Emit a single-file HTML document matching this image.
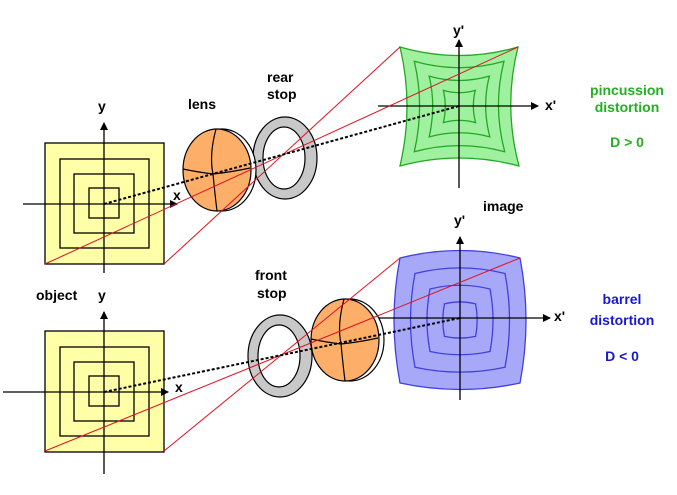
<!DOCTYPE html>
<html><head><style>body{margin:0;background:#fff}svg{display:block}text{font-family:"Liberation Sans",Arial,sans-serif;font-weight:bold;font-size:14px}</style></head>
<body>
<svg width="677" height="495" viewBox="0 0 677 495" xmlns="http://www.w3.org/2000/svg">
<defs>
<marker id="a" markerWidth="8" markerHeight="8" refX="7" refY="4" orient="auto" markerUnits="userSpaceOnUse"><path d="M0,0 L8,4 L0,8 Z" fill="#000"/></marker>
<g id="obj">
<rect x="45" y="143" width="119" height="121" fill="#ffffa8" stroke="#000" stroke-width="1.3"/>
<rect x="60" y="159" width="89" height="89" fill="none" stroke="#000" stroke-width="1.3"/>
<rect x="74" y="174" width="60" height="59" fill="none" stroke="#000" stroke-width="1.3"/>
<rect x="89" y="188" width="30" height="30" fill="none" stroke="#000" stroke-width="1.3"/>
</g>
<g id="lens">
<ellipse cx="5" cy="0" rx="34" ry="41" fill="#fff" stroke="#000" stroke-width="1.2"/>
<ellipse cx="0" cy="0" rx="34" ry="41" fill="#fdae68" stroke="#000" stroke-width="1.2"/>
<path d="M-1,-41 Q-8,-15 -4,4 Q-2,25 0,41" fill="none" stroke="#000" stroke-width="1.2"/>
<path d="M-34,-1 Q-20,2 -4,4 Q15,2 33,-2" fill="none" stroke="#000" stroke-width="1.2"/>
</g>
<g id="stop">
<ellipse cx="0" cy="0" rx="32" ry="41" fill="#c8c8c8" stroke="#000" stroke-width="1.2"/>
<ellipse cx="-1" cy="0" rx="21" ry="31" fill="#fff" stroke="#000" stroke-width="1.2"/>
</g>
</defs>

<!-- TOP -->
<use href="#obj"/>
<line x1="104" y1="273" x2="104" y2="123" stroke="#000" stroke-width="1.3" marker-end="url(#a)"/>
<line x1="23" y1="204" x2="177" y2="204" stroke="#000" stroke-width="1.3" marker-end="url(#a)"/>
<text x="98" y="111">y</text><text x="173" y="200">x</text>
<g fill="none" stroke="#22a822" stroke-width="1.3">
<path d="M400,47 Q459,64 518,47 Q503,106 519,166 Q459,150 400,166 Q414,106 400,47 Z" fill="#9ff09f"/>
<g transform="translate(459.5,106.5) scale(0.76) translate(-459.5,-106.5)"><path vector-effect="non-scaling-stroke" d="M400,47 Q459,64 518,47 Q503,106 519,166 Q459,150 400,166 Q414,106 400,47 Z"/></g>
<g transform="translate(459.5,106.5) scale(0.51) translate(-459.5,-106.5)"><path vector-effect="non-scaling-stroke" d="M400,47 Q459,64 518,47 Q503,106 519,166 Q459,150 400,166 Q414,106 400,47 Z"/></g>
<g transform="translate(459.5,106.5) scale(0.27) translate(-459.5,-106.5)"><path vector-effect="non-scaling-stroke" d="M400,47 Q459,64 518,47 Q503,106 519,166 Q459,150 400,166 Q414,106 400,47 Z"/></g>
</g>
<line x1="459" y1="188" x2="459" y2="40" stroke="#000" stroke-width="1.3" marker-end="url(#a)"/>
<line x1="378" y1="106" x2="538" y2="106" stroke="#000" stroke-width="1.3" marker-end="url(#a)"/>
<text x="453" y="35">y'</text><text x="545" y="110">x'</text>
<use href="#stop" x="285" y="158"/>
<use href="#lens" x="217" y="170"/>
<line x1="45" y1="264" x2="518" y2="47" stroke="#e01020" stroke-width="1"/>
<line x1="164" y1="264" x2="400" y2="47" stroke="#e01020" stroke-width="1"/>
<line x1="104" y1="204" x2="459" y2="106" stroke="#000" stroke-width="2" stroke-dasharray="3,2"/>
<text x="188" y="109">lens</text>
<text x="267" y="82">rear</text><text x="267" y="99">stop</text>

<!-- BOTTOM -->
<use href="#obj" y="188"/>
<line x1="104" y1="474" x2="104" y2="312" stroke="#000" stroke-width="1.3" marker-end="url(#a)"/>
<line x1="3" y1="392" x2="168" y2="392" stroke="#000" stroke-width="1.3" marker-end="url(#a)"/>
<text x="98" y="300">y</text><text x="175" y="392">x</text>
<g fill="none" stroke="#4040e0" stroke-width="1.3">
<path d="M400,258 Q460,243 520,258 Q532,320 520,383 Q460,396 400,383 Q388,320 400,258 Z" fill="#a8a8f8"/>
<g transform="translate(460,320) scale(0.75) translate(-460,-320)"><path vector-effect="non-scaling-stroke" d="M400,258 Q460,243 520,258 Q532,320 520,383 Q460,396 400,383 Q388,320 400,258 Z"/></g>
<g transform="translate(460,320) scale(0.5) translate(-460,-320)"><path vector-effect="non-scaling-stroke" d="M400,258 Q460,243 520,258 Q532,320 520,383 Q460,396 400,383 Q388,320 400,258 Z"/></g>
<g transform="translate(460,320) scale(0.26) translate(-460,-320)"><path vector-effect="non-scaling-stroke" d="M400,258 Q460,243 520,258 Q532,320 520,383 Q460,396 400,383 Q388,320 400,258 Z"/></g>
</g>
<line x1="460" y1="400" x2="460" y2="237" stroke="#000" stroke-width="1.3" marker-end="url(#a)"/>
<line x1="378" y1="318" x2="550" y2="318" stroke="#000" stroke-width="1.3" marker-end="url(#a)"/>
<text x="454" y="225">y'</text><text x="554" y="321">x'</text>
<use href="#stop" x="280" y="356"/>
<use href="#lens" x="345" y="340"/>
<line x1="45" y1="451" x2="520" y2="258" stroke="#e01020" stroke-width="1"/>
<line x1="164" y1="451" x2="400" y2="258" stroke="#e01020" stroke-width="1"/>
<line x1="104" y1="392" x2="460" y2="318" stroke="#000" stroke-width="2" stroke-dasharray="3,2"/>
<text x="255" y="280">front</text><text x="257" y="298">stop</text>
<text x="36" y="300">object</text>
<text x="483" y="211">image</text>

<g text-anchor="middle">
<text x="627" y="95" fill="#22b022">pincussion</text>
<text x="627" y="112" fill="#22b022">distortion</text>
<text x="627" y="147" fill="#22b022">D &gt; 0</text>
<text x="622" y="304" fill="#1818d0">barrel</text>
<text x="622" y="325" fill="#1818d0">distortion</text>
<text x="622" y="361" fill="#1818d0">D &lt; 0</text>
</g>
</svg>
</body></html>
